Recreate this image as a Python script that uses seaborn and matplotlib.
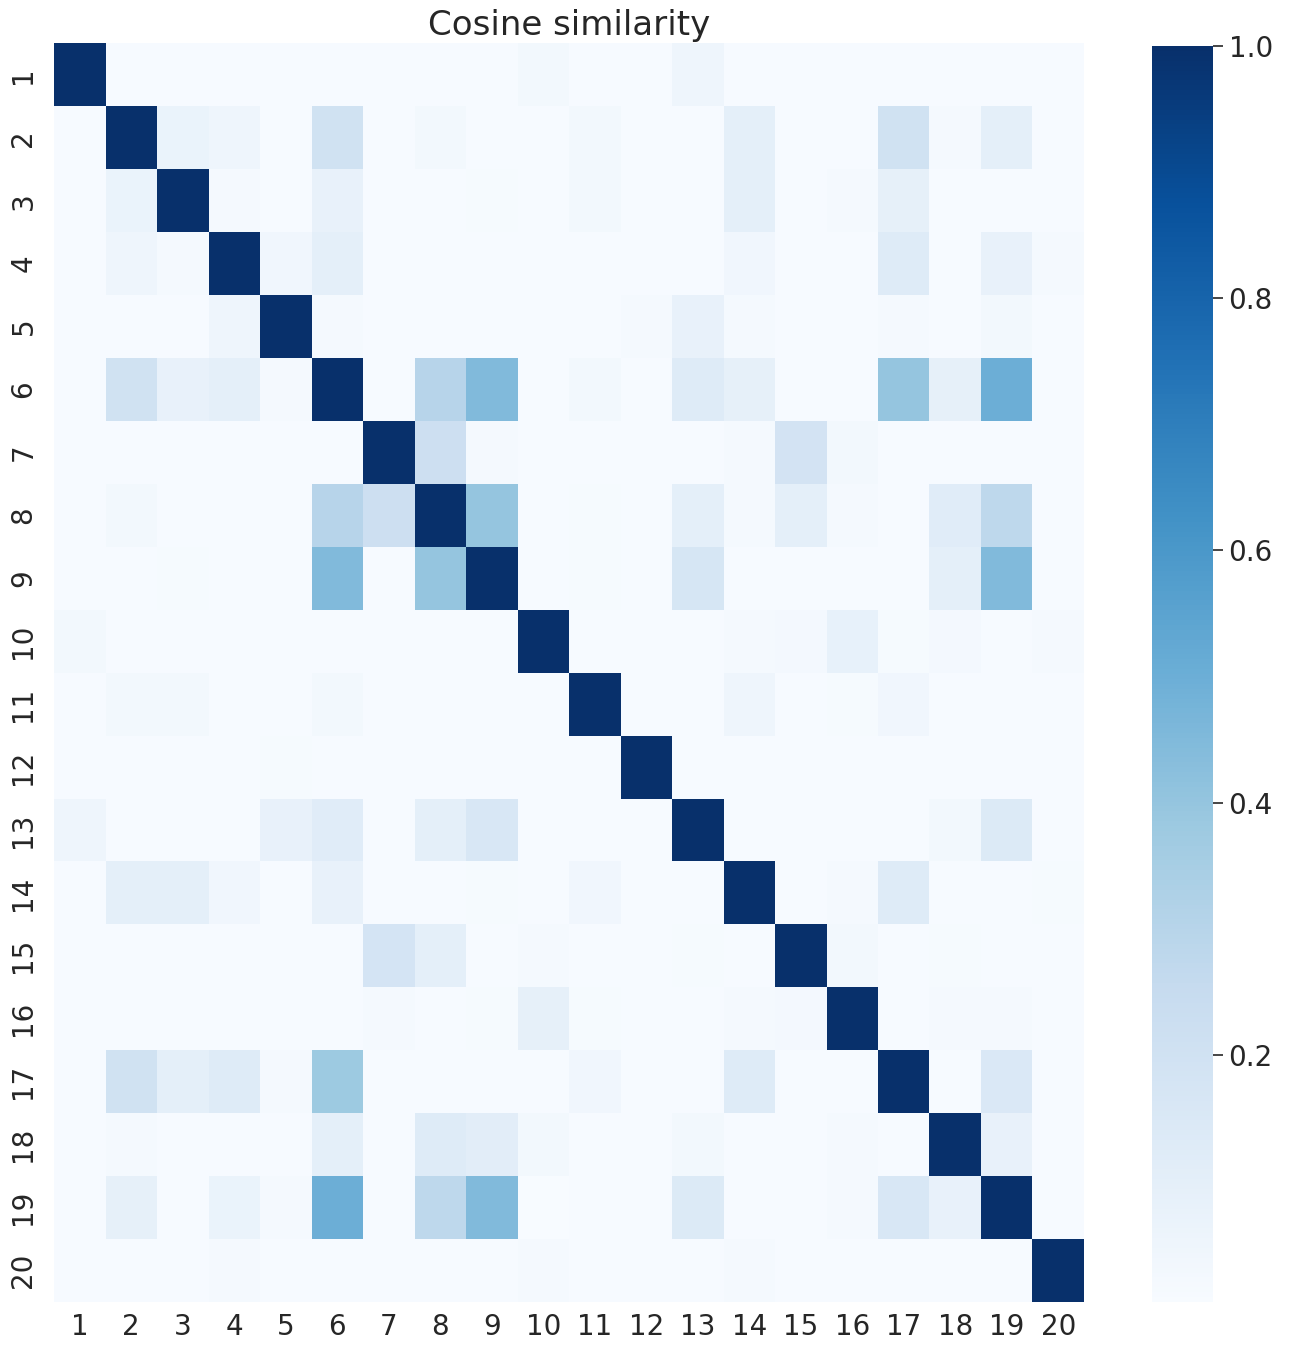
"""
Cosine similarity heatmap between 20 items.
"""

import matplotlib
matplotlib.use("Agg")
import matplotlib.pyplot as plt
import numpy as np
import seaborn as sns

# ── Data ──────────────────────────────────────────────────────────────────────

labels = [str(i) for i in range(1, 21)]

r1  = [1.00, .010, .010, .010, .010, .010, .010, .010, .010, .030, .010, .010, .050, .010, .010, .010, .010, .010, .010, .010]
r2  = [.010, 1.00, .070, .050, .010, .200, .010, .030, .010, .010, .030, .010, .010, .100, .010, .010, .200, .020, .100, .010]
r3  = [.010, .070, 1.00, .020, .010, .080, .010, .010, .015, .010, .030, .010, .010, .100, .010, .020, .090, .010, .010, .010]
r4  = [.010, .050, .020, 1.00, .040, .100, .010, .010, .010, .010, .010, .010, .010, .040, .010, .010, .130, .010, .080, .020]
r5  = [.010, .010, .010, .050, 1.00, .020, .010, .010, .010, .010, .010, .020, .080, .020, .010, .010, .020, .010, .030, .010]
r6  = [.010, .200, .080, .100, .020, 1.00, .010, .300, .450, .010, .030, .010, .130, .090, .010, .010, .400, .090, .500, .010]
r7  = [.010, .010, .010, .010, .010, .010, 1.00, .220, .020, .010, .010, .010, .010, .020, .190, .030, .010, .010, .010, .010]
r8  = [.010, .030, .010, .010, .010, .300, .220, 1.00, .400, .010, .015, .010, .100, .020, .100, .020, .010, .120, .280, .010]
r9  = [.010, .010, .015, .010, .010, .450, .010, .400, 1.00, .010, .015, .010, .170, .010, .010, .010, .010, .100, .450, .010]
r10 = [.030, .010, .010, .010, .010, .010, .010, .010, .010, 1.00, .010, .010, .010, .020, .025, .085, .015, .025, .010, .020]
r11 = [.010, .030, .030, .010, .010, .030, .010, .010, .010, .010, 1.00, .010, .010, .050, .010, .015, .040, .010, .010, .010]
r12 = [.010, .010, .010, .010, .015, .010, .010, .010, .010, .010, .010, 1.00, .010, .010, .010, .010, .010, .010, .010, .010]
r13 = [.050, .010, .010, .010, .080, .120, .010, .100, .160, .010, .010, .010, 1.00, .010, .010, .010, .010, .030, .140, .010]
r14 = [.010, .100, .100, .040, .010, .080, .010, .010, .015, .010, .040, .010, .010, 1.00, .010, .020, .130, .010, .010, .015]
r15 = [.010, .010, .010, .010, .010, .010, .180, .100, .010, .020, .010, .010, .015, .010, 1.00, .030, .010, .015, .010, .010]
r16 = [.010, .010, .010, .010, .010, .010, .020, .010, .015, .090, .015, .010, .010, .020, .025, 1.00, .010, .020, .020, .010]
r17 = [.010, .200, .100, .130, .020, .380, .010, .010, .010, .010, .040, .010, .010, .130, .010, .010, 1.00, .010, .150, .010]
r18 = [.010, .020, .010, .010, .010, .100, .010, .130, .110, .030, .010, .010, .030, .010, .010, .020, .010, 1.00, .080, .010]
r19 = [.010, .090, .010, .070, .020, .500, .010, .280, .450, .004, .010, .010, .140, .010, .010, .020, .160, .080, 1.00, .010]
r20 = [.010, .010, .010, .020, .010, .010, .010, .010, .010, .020, .010, .010, .010, .020, .010, .010, .010, .010, .010, 1.00]

sim = np.array([r1, r2, r3, r4, r5, r6, r7, r8, r9, r10,
                r11, r12, r13, r14, r15, r16, r17, r18, r19, r20])

# ── Plot ──────────────────────────────────────────────────────────────────────

sns.set_theme(style="darkgrid")
plt.rcParams["font.family"] = ["DejaVu Sans"]

fig = plt.figure(figsize=(12.9, 13.45), dpi=100)
ax = fig.add_axes([0.0419, 0.0320, 0.7984, 0.9357])
cax = fig.add_axes([0.8930, 0.0320, 0.0475, 0.9338])

sns.heatmap(
    sim, cmap="Blues", ax=ax, cbar_ax=cax,
    xticklabels=labels, yticklabels=labels,
)
ax.set_title("Cosine similarity", fontsize=24.5, color="0.15", pad=6)
ax.tick_params(axis="x", labelsize=20, colors="0.15", pad=2)
ax.tick_params(axis="y", labelsize=20, colors="0.15", pad=6)
cax.tick_params(labelsize=20, colors="0.15", length=7, width=1.2, pad=4)

fig.savefig("out.png", dpi=100)
plt.close(fig)
